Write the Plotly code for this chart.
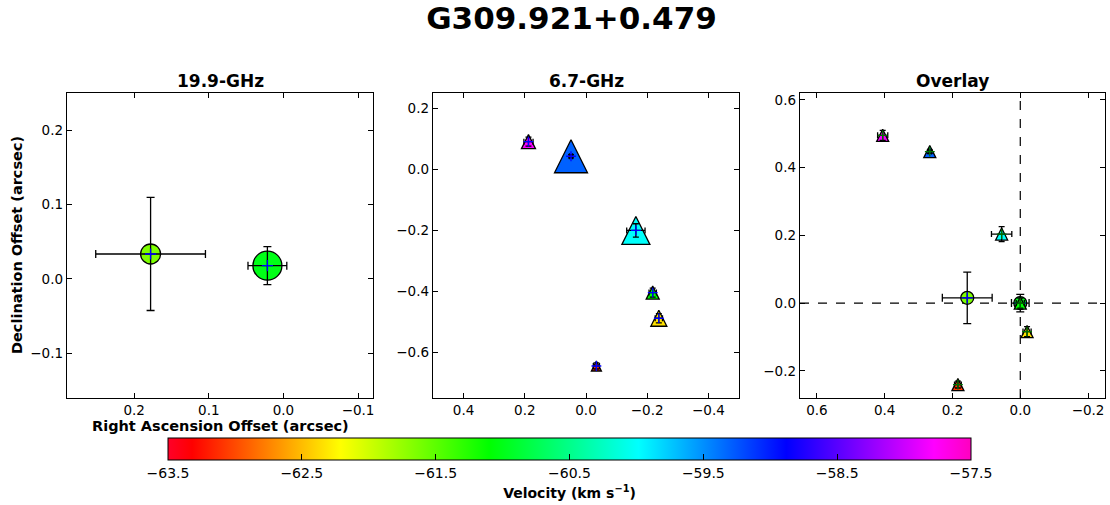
import plotly.graph_objects as go

# ---------------- data ----------------
# 19.9-GHz methanol spots (circles)
c_ra = [0.178, 0.0215]
c_dec = [0.0336, 0.0179]
c_ra_err = [0.0735, 0.026]
c_dec_err = [0.076, 0.0256]
c_vel = [-61.65, -61.0]
c_size = [20, 29]
c_ref = 1  # reference spot for overlay

# 6.7-GHz methanol spots (triangles)
m_ra = [0.188, 0.049, -0.163, -0.218, -0.238, -0.034]
m_dec = [0.0905, 0.0426, -0.2007, -0.4045, -0.4886, -0.645]
m_ra_err = [0.015, 0.005, 0.03, 0.012, 0.012, 0.01]
m_dec_err = [0.015, 0.005, 0.022, 0.015, 0.015, 0.01]
m_vel = [-57.8, -59.3, -60.0, -61.1, -62.34, -63.1]
m_size = [14, 33, 28, 13, 16, 10]
m_ref = 3  # reference spot for overlay

vel_min, vel_max = -63.5, -57.5
vel_ticks = [-63.5, -62.5, -61.5, -60.5, -59.5, -58.5, -57.5]

# overlay positions (relative to reference spots)
o_c_ra = [r - c_ra[c_ref] for r in c_ra]
o_c_dec = [d - c_dec[c_ref] for d in c_dec]
o_m_ra = [r - m_ra[m_ref] for r in m_ra]
o_m_dec = [d - m_dec[m_ref] for d in m_dec]

# ---------------- style ----------------
FONT = "DejaVu Sans"
gist_rainbow = [
    [0.000, "rgb(255,0,41)"],
    [0.030, "rgb(255,0,0)"],
    [0.215, "rgb(255,255,0)"],
    [0.400, "rgb(0,255,0)"],
    [0.586, "rgb(0,255,255)"],
    [0.770, "rgb(0,0,255)"],
    [0.954, "rgb(255,0,255)"],
    [1.000, "rgb(255,0,191)"],
]

W, H = 1110, 505
def px_x(a, b):
    return [a / W, b / W]
def px_y(top, bottom):
    return [(H - bottom) / H, (H - top) / H]

dom_y = px_y(93, 398)
doms_x = [px_x(67, 373), px_x(433, 739), px_x(800, 1105)]
ranges = [
    ([0.29, -0.12], [-0.16, 0.25], 0.1),
    ([0.5, -0.5], [-0.75, 0.25], 0.2),
    ([0.65, -0.25], [-0.28, 0.62], 0.2),
]

fig = go.Figure()

def err(vals, w=3):
    return dict(type="data", array=vals, visible=True, color="black",
                thickness=1.3, width=w)

def circles(xa, ya, ra, dec, size, vel, rerr, derr):
    fig.add_trace(go.Scatter(
        x=ra, y=dec, mode="markers", xaxis=xa, yaxis=ya, showlegend=False,
        marker=dict(symbol="circle", size=size, color=vel, colorscale=gist_rainbow,
                    cmin=vel_min, cmax=vel_max, opacity=1,
                    line=dict(color="black", width=1.3)),
        hoverinfo="skip"))
    fig.add_trace(go.Scatter(
        x=ra, y=dec, mode="markers", xaxis=xa, yaxis=ya, showlegend=False,
        error_x=err(rerr, 4), error_y=err(derr, 4),
        marker=dict(symbol="cross-thin", size=8, color="blue", opacity=1,
                    line=dict(color="blue", width=1.3)),
        hoverinfo="skip"))

def triangles(xa, ya, ra, dec, size, vel, rerr, derr, cross_color, showscale=False):
    marker = dict(symbol="arrow-down", angle=180, standoff=[s / 2 for s in size],
                  size=size, color=vel, colorscale=gist_rainbow, opacity=1,
                  cmin=vel_min, cmax=vel_max, line=dict(color="black", width=1.3))
    if showscale:
        marker["showscale"] = True
        marker["colorbar"] = dict(
            orientation="h", x=569.5 / W, xanchor="center",
            y=(H - 438) / H, yanchor="top", len=803 / W, lenmode="fraction",
            thickness=22, thicknessmode="pixels", outlinewidth=1, outlinecolor="black",
            xpad=0, ypad=0,
            tickmode="array", tickvals=vel_ticks, tickformat=".1f",
            ticks="inside", ticklen=6, tickcolor="black",
            tickfont=dict(family=FONT, size=14, color="black"),
            title=dict(text="<b>Velocity (km s<sup>−1</sup>)</b>", side="bottom",
                       font=dict(family=FONT, size=14, color="black")),
        )
    fig.add_trace(go.Scatter(
        x=ra, y=dec, mode="markers", xaxis=xa, yaxis=ya, showlegend=False,
        marker=marker, hoverinfo="skip"))
    fig.add_trace(go.Scatter(
        x=ra, y=dec, mode="markers", xaxis=xa, yaxis=ya, showlegend=False,
        error_x=err(rerr, 3), error_y=err(derr, 3),
        marker=dict(symbol="cross-thin", size=7, color=cross_color, opacity=1,
                    line=dict(color=cross_color, width=1.3)),
        hoverinfo="skip"))

# panel 1
circles("x", "y", c_ra, c_dec, c_size, c_vel, c_ra_err, c_dec_err)
# panel 2
triangles("x2", "y2", m_ra, m_dec, m_size, m_vel, m_ra_err, m_dec_err, "blue", showscale=True)
# panel 3 (overlay)
fig.add_shape(type="line", xref="x3 domain", yref="y3", x0=0, x1=1, y0=0, y1=0,
              line=dict(color="black", width=1.2, dash="dash"), layer="below")
fig.add_shape(type="line", xref="x3", yref="y3 domain", x0=0, x1=0, y0=0, y1=1,
              line=dict(color="black", width=1.2, dash="dash"), layer="below")
circles("x3", "y3", o_c_ra, o_c_dec, [13] * len(c_ra), c_vel, c_ra_err, c_dec_err)
triangles("x3", "y3", o_m_ra, o_m_dec, [12] * len(m_ra), m_vel, m_ra_err, m_dec_err, "#007000")

axis_common = dict(showgrid=False, zeroline=False, showline=True, linecolor="black",
                   linewidth=1.4, mirror="allticks", ticks="inside", ticklen=5,
                   tickwidth=1.2, tickcolor="black", tickformat=".1f",
                   tickfont=dict(family=FONT, size=13.5, color="black"))
layout_axes = {}
for i, (xr, yr, dt) in enumerate(ranges):
    sfx = "" if i == 0 else str(i + 1)
    layout_axes["xaxis" + sfx] = dict(axis_common, domain=doms_x[i], range=xr, dtick=dt,
                                      tick0=0, anchor="y" + sfx)
    layout_axes["yaxis" + sfx] = dict(axis_common, domain=dom_y, range=yr, dtick=dt,
                                      tick0=0, anchor="x" + sfx)

fig.update_layout(
    width=W, height=H, margin=dict(l=0, r=0, t=0, b=0),
    paper_bgcolor="white", plot_bgcolor="white",
    font=dict(family=FONT, color="black"),
    title=dict(text="<b>G309.921+0.479</b>", x=571.5 / W, xanchor="center",
               y=1 - 18 / H, yanchor="middle", font=dict(family=FONT, size=31, color="black")),
    **layout_axes,
)

sub_titles = [("19.9-GHz", 220), ("6.7-GHz", 586), ("Overlay", 952.5)]
for txt, cx in sub_titles:
    fig.add_annotation(text="<b>%s</b>" % txt, x=cx / W, y=1 - 81 / H, xref="paper",
                       yref="paper", showarrow=False, xanchor="center", yanchor="middle",
                       font=dict(family=FONT, size=17, color="black"))

fig.add_annotation(text="<b>Declination Offset (arcsec)</b>", x=17 / W, y=1 - 245 / H,
                   xref="paper", yref="paper", showarrow=False, textangle=-90,
                   xanchor="center", yanchor="middle",
                   font=dict(family=FONT, size=14.5, color="black"))
fig.add_annotation(text="<b>Right Ascension Offset (arcsec)</b>", x=220 / W, y=1 - 426 / H,
                   xref="paper", yref="paper", showarrow=False,
                   xanchor="center", yanchor="middle",
                   font=dict(family=FONT, size=14.5, color="black"))

fig.write_html("out.html", config={"displayModeBar": False},
               post_script="document.body.style.margin='0';document.body.style.overflow='hidden';")
